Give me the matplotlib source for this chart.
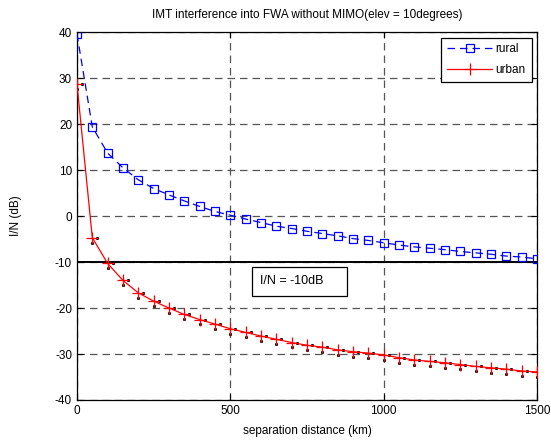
import numpy as np
import matplotlib
matplotlib.use("Agg")
from matplotlib import pyplot as plt
from matplotlib.patches import Rectangle
from matplotlib.transforms import ScaledTranslation

plt.rcParams["font.family"] = ["Liberation Sans", "DejaVu Sans"]
plt.rcParams["axes.unicode_minus"] = False

# separation distance (km)
distance = list(range(0, 1501, 50))

# I/N (dB)
rural = [39.6, 19.4, 13.7, 10.5, 7.9, 6.0, 4.6, 3.3, 2.1, 1.0, 0.2,
         -0.65, -1.4, -2.2, -2.7, -3.3, -3.8, -4.3, -4.9, -5.3, -5.8,
         -6.3, -6.7, -7.0, -7.3, -7.7, -8.0, -8.3, -8.7, -8.9, -9.3]
urban = [28.7, -4.7, -10.3, -14.0, -16.7, -18.5, -20.0, -21.4, -22.5, -23.5,
         -24.5, -25.3, -26.1, -26.8, -27.5, -28.1, -28.5, -29.1, -29.5, -29.8,
         -30.2, -30.8, -31.3, -31.6, -31.9, -32.3, -32.7, -33.0, -33.3, -33.7,
         -33.9]
threshold = -10
threshold_label = "I/N = -10dB"

fig = plt.figure(figsize=(5.51, 4.41), dpi=100)
ax = fig.add_axes([0.1397, 0.093, 0.835, 0.834])

ax.plot(distance, rural, color="#0000ff", ls=(0, (6, 4)), lw=0.9,
        marker="s", ms=6, mfc="none", mec="#0000ff", mew=0.9, label="rural", zorder=3)

# small black specks beside each urban marker, like the original rendering
for dx, dy in [(0, -3.5), (3.5, 0)]:
    off = ax.transData + ScaledTranslation(dx / 72, dy / 72, fig.dpi_scale_trans)
    ax.plot(distance, urban, ls="none", marker="s", ms=1.1, color="black",
            transform=off, zorder=3)
ax.plot(distance, urban, color="#ff0000", lw=0.9, marker="+", ms=8, mew=0.9,
        label="urban", zorder=4)

ax.axhline(threshold, color="black", lw=1.4, zorder=2)
# annotation box under the threshold line
ax.add_patch(Rectangle((570, -17.3), 310, 6.3, fc="white", ec="black", lw=0.9, zorder=5))
ax.text(598, -14.1, threshold_label, fontsize=9, va="center", ha="left", zorder=6)

ax.set_xlim(0, 1500)
ax.set_ylim(-40, 40)
ax.set_xticks([0, 500, 1000, 1500])
ax.set_yticks(range(-40, 41, 10))
ax.grid(True, color="#555555", ls=(0, (6, 4)), lw=0.9)
ax.tick_params(direction="in", top=True, right=True, labelsize=8.5, length=4)
for s in ax.spines.values():
    s.set_linewidth(0.9)

ax.set_xlabel("separation distance (km)", fontsize=8.5, labelpad=6)
ax.set_ylabel("I/N (dB)", fontsize=8.5, labelpad=24)
ax.set_title("IMT interference into FWA without MIMO(elev = 10degrees)",
             fontsize=8.5, pad=10)

leg = ax.legend(loc="upper right", fontsize=8.5, fancybox=False, framealpha=1,
                edgecolor="black", handlelength=3.8, borderaxespad=0.45,
                labelspacing=0.75, handletextpad=0.3, borderpad=0.5)
leg.get_frame().set_linewidth(0.9)

fig.savefig("out.png", dpi=100, facecolor="white")
